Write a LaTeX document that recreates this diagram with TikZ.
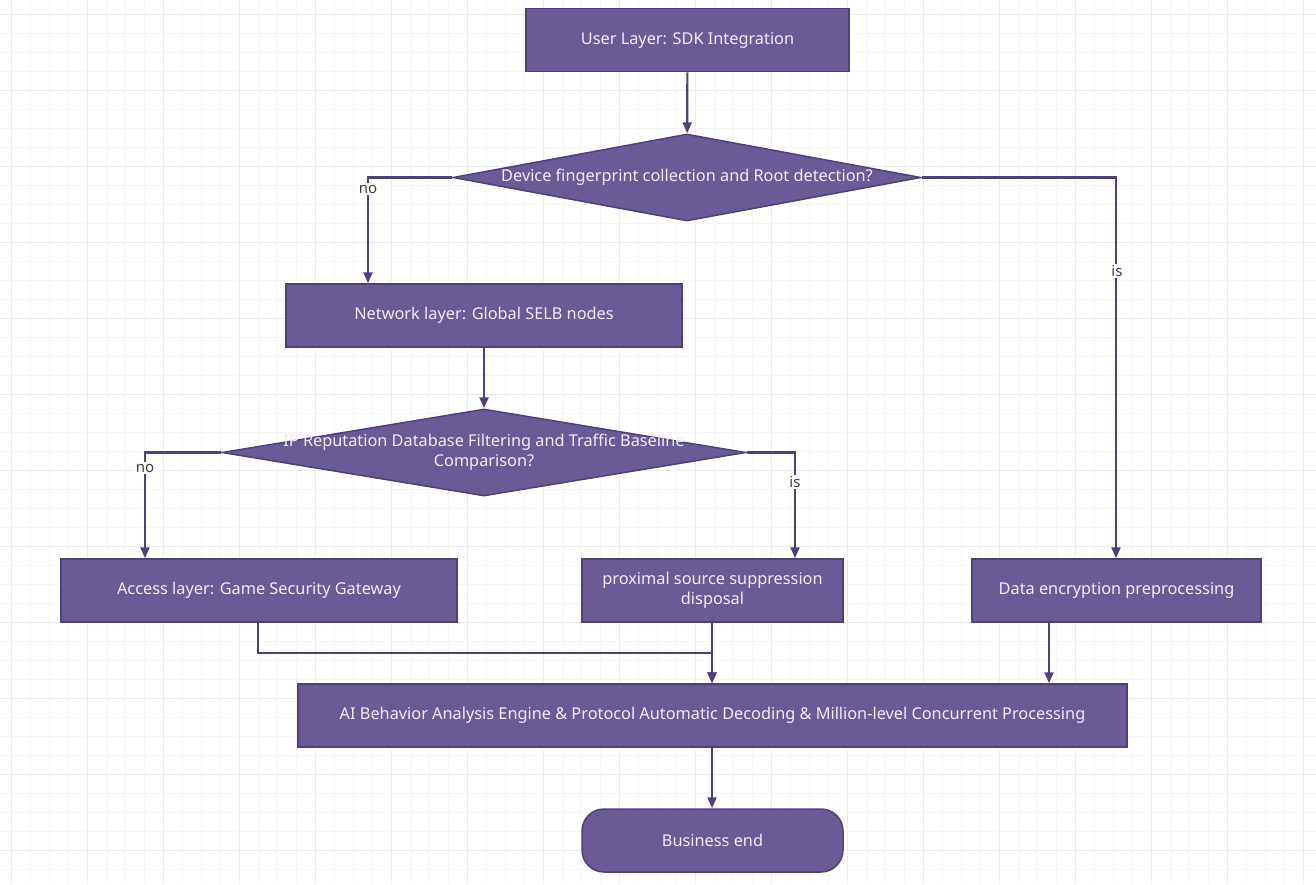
\documentclass[tikz,border=0pt]{standalone}
\usepackage{fontspec}
\setmainfont{Noto Sans}
\usetikzlibrary{shapes.geometric,arrows.meta}
\definecolor{boxfill}{HTML}{6A5A95}
\definecolor{boxline}{HTML}{4F4178}
\definecolor{conn}{HTML}{4F4178}
\definecolor{txt}{HTML}{F1ECFA}
\definecolor{gridminor}{HTML}{F5F5F5}
\definecolor{gridmajor}{HTML}{EBEBEB}
\tikzset{
  procbox/.style={draw=boxline, line width=1.5pt, fill=boxfill, text=txt, font=\fontsize{16.3}{19}\selectfont, minimum height=63pt, inner sep=0pt, align=center},
  decbox/.style={diamond, draw=boxline, line width=1.5pt, fill=boxfill, inner sep=0pt, aspect=1},
  dectext/.style={text=txt, font=\fontsize{16.3}{20}\selectfont, align=center},
  endbox/.style={procbox, rounded corners=22pt},
  conn/.style={draw=conn, line width=2.2pt, -{Triangle[length=11pt,width=9pt]}},
  lbl/.style={fill=white, text=black!75, font=\fontsize{15}{17}\selectfont, inner sep=1.5pt}
}
\begin{document}
\begin{tikzpicture}[x=1pt,y=-1pt]
\useasboundingbox (0,0) rectangle (1316,884);
\fill[white] (0,0) rectangle (1316,884);
% grid
\foreach \k in {0,...,69} {
  \pgfmathsetmacro{\xx}{11+19*\k}
  \pgfmathtruncatemacro{\mm}{mod(\k,4)}
  \ifnum\mm=0 \draw[gridmajor, line width=1pt] (\xx,0) -- (\xx,884);
  \else \draw[gridminor, line width=0.9pt] (\xx,0) -- (\xx,884); \fi
}
\foreach \k in {0,...,46} {
  \pgfmathsetmacro{\yy}{14+19*\k}
  \pgfmathtruncatemacro{\mm}{mod(\k,4)}
  \ifnum\mm=0 \draw[gridmajor, line width=1pt] (0,\yy) -- (1316,\yy);
  \else \draw[gridminor, line width=0.9pt] (0,\yy) -- (1316,\yy); \fi
}
% x references
\coordinate (x145) at (145,0);
\coordinate (x258) at (258,0);
\coordinate (x368) at (368,0);
\coordinate (x712) at (712,0);
\coordinate (x795) at (795,0);
\coordinate (x1049) at (1049,0);
\coordinate (x1116) at (1116,0);
% nodes
\node[procbox, minimum width=323pt] (user) at (687.5,40) {User Layer: SDK Integration};
\node[decbox, minimum width=468pt, minimum height=87pt] (d1) at (687,177.5) {};
\node[dectext] (d1t) at (d1.center) {Device fingerprint collection and Root detection?};
\node[procbox, minimum width=396pt] (net) at (484,315.5) {Network layer: Global SELB nodes};
\node[decbox, minimum width=524pt, minimum height=87pt] (d2) at (484,452.5) {};
\node[dectext] (d2t) at (d2.center) {IP Reputation Database Filtering and Traffic Baseline\\Comparison?};
\node[procbox, minimum width=396pt] (acc) at (259,590.5) {Access layer: Game Security Gateway};
\node[procbox, minimum width=261pt, font=\fontsize{16.3}{20}\selectfont] (prox) at (712.5,590.5) {proximal source suppression\\disposal};
\node[procbox, minimum width=289pt] (enc) at (1116.5,590.5) {Data encryption preprocessing};
\node[procbox, minimum width=829pt] (ai) at (712.5,715.5) {AI Behavior Analysis Engine \& Protocol Automatic Decoding \& Million-level Concurrent Processing};
\node[endbox, minimum width=261pt] (end) at (712.5,840.5) {Business end};
% connectors
\draw[conn] (user) -- (d1);
\draw[conn] (d1.west) -| (net.north -| x368);
\node[lbl] (no1) at (368,189) {no};
\draw[conn] (d1.east) -| (enc.north -| x1116);
\node[lbl] (is1) at (1117,271) {is};
\draw[conn] (net) -- (d2);
\draw[conn] (d2.west) -| (acc.north -| x145);
\node[lbl] (no2) at (145,468) {no};
\draw[conn] (d2.east) -| (prox.north -| x795);
\node[lbl] (is2) at (795,482) {is};
\coordinate (accdown) at (258,653);
\draw[conn] (acc.south -| x258) -- (accdown) -| (ai.north -| x712);
\draw[conn] (prox.south -| x712) -- (ai.north -| x712);
\draw[conn] (enc.south -| x1049) -- (ai.north -| x1049);
\draw[conn] (ai.south -| x712) -- (end.north -| x712);
\end{tikzpicture}
\end{document}
